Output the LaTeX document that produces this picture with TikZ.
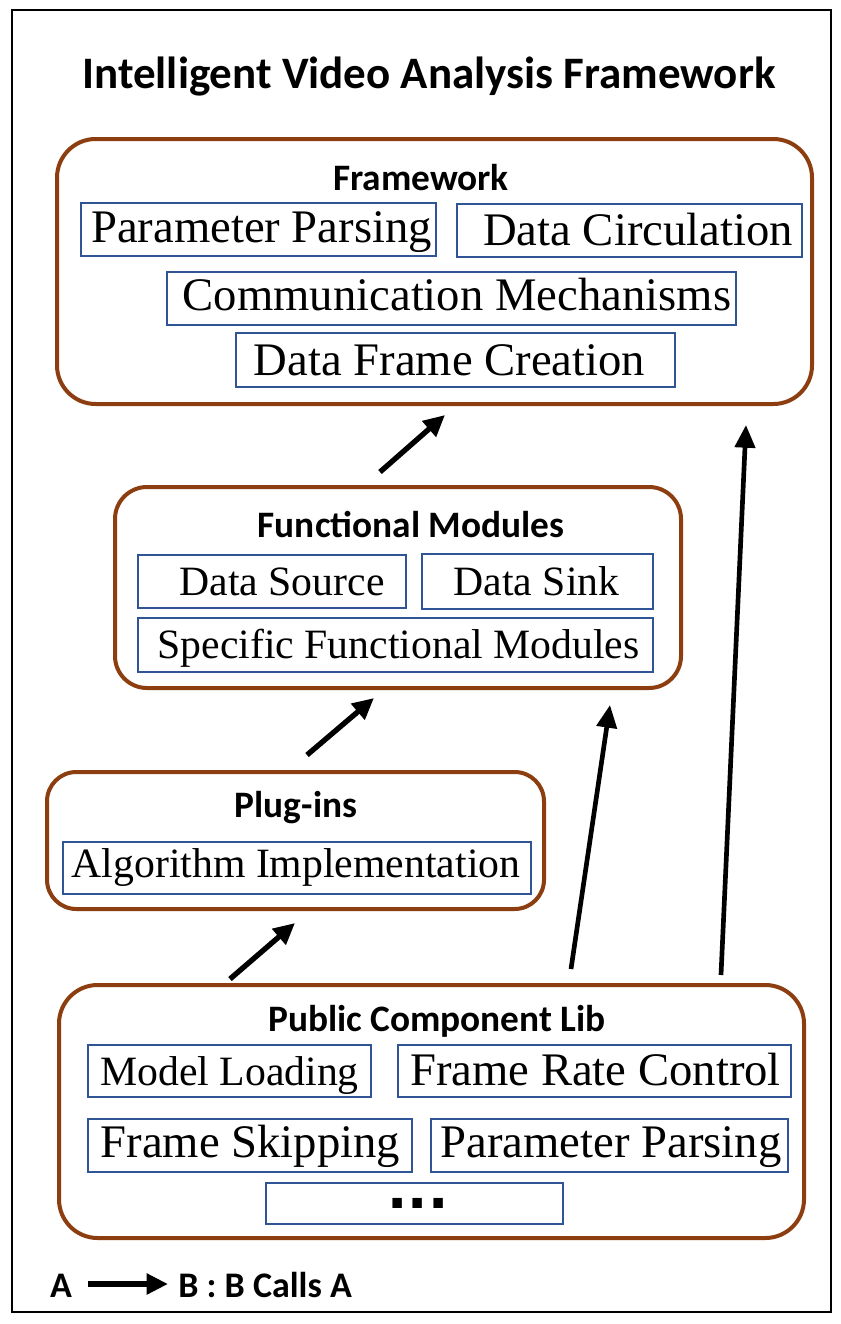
\documentclass[tikz,border=0pt]{standalone}
\usepackage{fontspec}
\setmainfont{Liberation Serif}
\newfontfamily\titlefont{Carlito}
\newfontfamily\dotfont{DejaVu Sans}
\usetikzlibrary{arrows.meta}
\definecolor{secbrown}{RGB}{140,62,16}
\definecolor{boxblue}{RGB}{47,85,151}
\begin{document}
\begin{tikzpicture}[x=0.75pt,y=-0.75pt,
  secbox/.style={draw=secbrown, line width=3pt, rounded corners=27pt, inner sep=0pt},
  ibox/.style={draw=boxblue, line width=1.5pt, inner sep=0pt},
  bigtxt/.style={inner sep=0pt, anchor=base, font=\fontsize{35pt}{40pt}\selectfont},
  smtxt/.style={inner sep=0pt, anchor=base, font=\fontsize{31.3pt}{36pt}\selectfont},
  sectitle/.style={inner sep=0pt, anchor=base, font=\titlefont\bfseries\fontsize{28pt}{32pt}\selectfont},
  legtext/.style={inner sep=0pt, anchor=base, font=\titlefont\bfseries\fontsize{27pt}{30pt}\selectfont},
  callarrow/.style={line width=4pt, -{Triangle[length=16pt,width=15pt]}},
  longarrow/.style={line width=3.5pt, -{Triangle[length=17pt,width=15pt]}}
]
\fill[white] (0,0) rectangle (841,1324);
\useasboundingbox (0,0) rectangle (841,1324);
% outer frame
\node[draw, line width=1.5pt, inner sep=0pt, minimum width=819*0.75pt, minimum height=1302*0.75pt] (frame) at (421.5,661) {};
\node[inner sep=0pt, anchor=base, font=\titlefont\bfseries\fontsize{33.75pt}{40pt}\selectfont] (title) at (429,88) {Intelligent Video Analysis Framework};

% Framework
\node[secbox, rounded corners=29pt, minimum width=755*0.75pt, minimum height=265*0.75pt] (fw) at (434.5,271.5) {};
\node[sectitle] (fwt) at (421,190) {Framework};
\node[ibox, minimum width=355*0.75pt, minimum height=53*0.75pt] (fppb) at (258.5,229.5) {};
\node[bigtxt] (fpp) at (261.5,242) {Parameter Parsing};
\node[ibox, minimum width=345*0.75pt, minimum height=53*0.75pt] (fdcb) at (629.5,230.5) {};
\node[bigtxt] (fdc) at (638,245) {Data Circulation};
\node[ibox, minimum width=569*0.75pt, minimum height=53*0.75pt] (fcmb) at (451.5,298.5) {};
\node[bigtxt] (fcm) at (457,310) {Communication Mechanisms};
\node[ibox, minimum width=439*0.75pt, minimum height=54*0.75pt] (fdfb) at (455.5,360) {};
\node[bigtxt] (fdf) at (449.5,375) {Data Frame Creation};

% Functional Modules
\node[secbox, rounded corners=24pt, minimum width=566*0.75pt, minimum height=201*0.75pt] (fm) at (398,587.5) {};
\node[sectitle] (fmt) at (411,537) {Functional Modules};
\node[ibox, minimum width=268*0.75pt, minimum height=53*0.75pt] (fdsb) at (272,581.5) {};
\node[smtxt] (fds) at (282,595) {Data Source};
\node[ibox, minimum width=231*0.75pt, minimum height=55*0.75pt] (fskb) at (537.5,581.5) {};
\node[smtxt] (fsk) at (536.5,595) {Data Sink};
\node[ibox, minimum width=515*0.75pt, minimum height=54*0.75pt] (fsfb) at (395.5,645) {};
\node[smtxt] (fsf) at (398.5,658) {Specific Functional Modules};

% Plug-ins
\node[secbox, rounded corners=22pt, minimum width=497*0.75pt, minimum height=137*0.75pt] (pi) at (295.5,840.5) {};
\node[sectitle] (pit) at (296,817) {Plug-ins};
\node[ibox, minimum width=468*0.75pt, minimum height=52*0.75pt] (paib) at (297,868) {};
\node[smtxt] (pai) at (296,877) {Algorithm Implementation};

% Public Component Lib
\node[secbox, rounded corners=29pt, minimum width=745*0.75pt, minimum height=253*0.75pt] (lib) at (431.5,1111.5) {};
\node[sectitle] (libt) at (437,1031) {Public Component Lib};
\node[ibox, minimum width=283*0.75pt, minimum height=52*0.75pt] (lmlb) at (229.5,1071) {};
\node[smtxt] (lml) at (229.5,1085) {Model Loading};
\node[ibox, minimum width=393*0.75pt, minimum height=52*0.75pt] (lfrb) at (594.5,1071) {};
\node[bigtxt] (lfr) at (595.5,1085) {Frame Rate Control};
\node[ibox, minimum width=324*0.75pt, minimum height=53*0.75pt] (lfsb) at (250,1145.5) {};
\node[bigtxt] (lfs) at (250.5,1157) {Frame Skipping};
\node[ibox, minimum width=357*0.75pt, minimum height=53*0.75pt] (lppb) at (609.5,1145.5) {};
\node[bigtxt] (lpp) at (611,1157) {Parameter Parsing};
\node[ibox, minimum width=297*0.75pt, minimum height=41*0.75pt] (ldotsb) at (414.5,1203.5) {};
\node[inner sep=0pt, anchor=base, font=\dotfont\bfseries\fontsize{40pt}{44pt}\selectfont] (ldots) at (418,1208) {...};

% call arrows
\coordinate (a1s) at (230,979);  \coordinate (a1e) at (295,923);
\coordinate (a2s) at (307,755);  \coordinate (a2e) at (374,698);
\coordinate (a3s) at (380,472);  \coordinate (a3e) at (445,415);
\coordinate (a4s) at (571,969);  \coordinate (a4e) at (610,705);
\coordinate (a5s) at (721,975);  \coordinate (a5e) at (746,425);
\draw[callarrow] (a1s) -- (a1e);
\draw[callarrow] (a2s) -- (a2e);
\draw[callarrow] (a3s) -- (a3e);
\draw[longarrow] (a4s) -- (a4e);
\draw[longarrow] (a5s) -- (a5e);

% legend
\node[legtext] (legA) at (61,1297) {A};
\node[legtext, anchor=base west] (legB) at (178,1297) {B : B Calls A};
\coordinate (lgs) at (88,1284); \coordinate (lge) at (168,1284);
\draw[callarrow] (lgs) -- (lge);
\end{tikzpicture}
\end{document}
